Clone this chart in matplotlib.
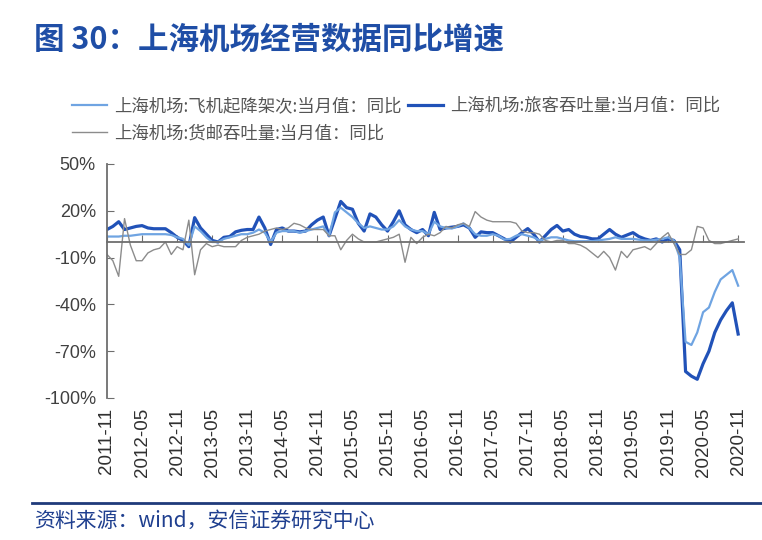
import matplotlib
matplotlib.use("Agg")
import matplotlib.pyplot as plt
from matplotlib.lines import Line2D
import pandas as pd

plt.rcParams['font.family'] = ['Liberation Sans', 'Noto Sans CJK SC']
plt.rcParams['axes.unicode_minus'] = False

# 月份 2011-11 ~ 2020-11
months = pd.date_range('2011-11-01', '2020-11-01', freq='MS').strftime('%Y-%m').tolist()

# 飞机起降架次 当月同比 (%)
flights = [3.5, 3.5, 3.5, 4, 4, 4.5, 5, 5, 5, 5, 5, 4.5,
           3, 2, -2, 10, 7, 3, 0, 0, 2, 3, 4, 5,
           5, 6, 8, 6, 0, 6, 7, 7, 7, 6, 7, 8,
           9, 10, 4, 19, 22, 19, 16, 12, 9, 10, 9, 8,
           8, 10, 14, 10, 8, 7, 7, 5, 13, 10, 9, 8.6,
           10, 12, 9, 5, 4, 4, 5, 4, 1.6, 2, 4, 5,
           4, 3, 1, 2, 3, 3, 2, 1, 0.5, 0.5, 0.5, 0.5,
           1, 1.5, 2, 3, 2, 2, 2, 1.5, 1, 1, 1.5, 2,
           3, 1, -10, -64, -66, -58, -45, -42, -32, -24, -21, -18, -28]

# 旅客吞吐量 当月同比 (%)
passengers = [8, 10, 13, 8, 9, 10, 10.5, 9, 8.5, 8.5, 8.5, 6,
              3, 1, -3, 15.6, 9, 5, 1, 0, 3, 3.5, 6.5, 7.5,
              8, 8, 16, 9, -1.6, 8, 9, 7, 7, 6.5, 7, 11,
              14, 16, 4, 15, 26, 22, 21, 12, 7, 18, 16, 11,
              7, 13, 20, 11, 8, 6, 8, 4, 19, 8, 9, 9.5,
              10, 11, 9, 3, 6.5, 6, 6, 4, 2, 0, 3, 6,
              8.6, 5, 0, 4, 8, 10.6, 7, 8, 5, 3.5, 3, 2,
              2, 5, 8, 5, 3, 4.5, 6, 3.5, 2, 1, 2, 0,
              2, 1, -5, -83, -86, -88, -78, -70, -58, -50, -44, -39, -59]

# 货邮吞吐量 当月同比 (%)
cargo = [-8, -12, -22, 15, -2, -12, -12, -7, -5, -4, 0, -8,
         -3, -5, 14, -21, -5, -1, -3, -2, -3, -3, -3, 1,
         3, 4, 5, 7, 8, 9, 8, 9, 12, 11, 9, 8,
         8, 8, 4, 4, -5, 1, 5, 2, 0, 0, 0, 1,
         2, 3, 5, -13, 3, -1, 3, 5, 4, 6, 10, 9,
         11, 12, 10, 19.5, 16, 14, 13, 13, 13, 13, 12, 7,
         6, 6, 5, 1, 0, 1, 1, -1, -1, -2, -4, -7,
         -10, -6, -10, -18, -6, -10, -5, -4, -3, -5, -1, 3,
         6, -1, -8, -8, -5, 10, 9, 1, -1, -1, 0, 1, 2]

yticks = [-100, -70, -40, -10, 20, 50]
tick_idx = list(range(0, len(months), 6))

fig = plt.figure(figsize=(7.62, 5.4), dpi=100)
ax = fig.add_axes([107 / 762, 1 - 398 / 540, (744 - 107) / 762, (398 - 164) / 540])

x = list(range(len(months)))
l2, = ax.plot(x, passengers, color='#2152b8', lw=2.3, label='上海机场:旅客吞吐量:当月值：同比')
l1, = ax.plot(x, flights, color='#6fa4e2', lw=1.6, label='上海机场:飞机起降架次:当月值：同比')
l3, = ax.plot(x, cargo, color='#8c8c8c', lw=1.0, label='上海机场:货邮吞吐量:当月值：同比')

ax.set_xlim(0, 109)
ax.set_ylim(-100, 50)
for s in ['top', 'right']:
    ax.spines[s].set_visible(False)
ax.spines['bottom'].set_position(('data', 0))
ax.spines['bottom'].set_color('#6e6e6e')
ax.spines['left'].set_color('#6e6e6e')
ax.spines['bottom'].set_linewidth(1.3)
ax.spines['left'].set_linewidth(1.3)

ax.set_xticks(tick_idx)
ax.tick_params(axis='x', direction='in', length=5, color='#6e6e6e', labelbottom=False)
ax.set_yticks(yticks)
ax.set_yticklabels([f'{v}%' for v in yticks])
ax.tick_params(axis='y', direction='in', length=5, color='#6e6e6e', pad=8,
               labelsize=13, labelcolor='#404040')

sec = ax.secondary_xaxis('bottom')
sec.set_xticks(tick_idx, labels=[months[i] for i in tick_idx])
sec.tick_params(axis='x', length=0, pad=7, labelsize=13.5, labelrotation=90, labelcolor='#303030')
sec.spines['bottom'].set_visible(False)

fig.legend(handles=[l1, l3, l2], loc='upper left', bbox_to_anchor=(72 / 762, 1 - 97 / 540),
           ncol=2, frameon=False, prop={'family': 'Noto Sans CJK SC', 'size': 12.5},
           labelcolor='#555555', handlelength=2.0, handletextpad=0.4,
           columnspacing=0.4, labelspacing=0.55, borderaxespad=0, borderpad=0)

fig.text(34 / 762, 1 - 40 / 540, '图 30：上海机场经营数据同比增速', fontsize=22,
         weight='bold', color='#1f4ea6', va='center', family=['Noto Sans CJK SC', 'DejaVu Sans'])
fig.add_artist(Line2D([32 / 762, 1], [1 - 503 / 540, 1 - 503 / 540], color='#1f3a7a', lw=2))
fig.text(34 / 762, 1 - 522 / 540, '资料来源：wind，安信证券研究中心', fontsize=15,
         color='#1f3f8f', va='center', family=['Noto Sans CJK SC', 'DejaVu Sans'])

fig.savefig('out.png', dpi=100)
